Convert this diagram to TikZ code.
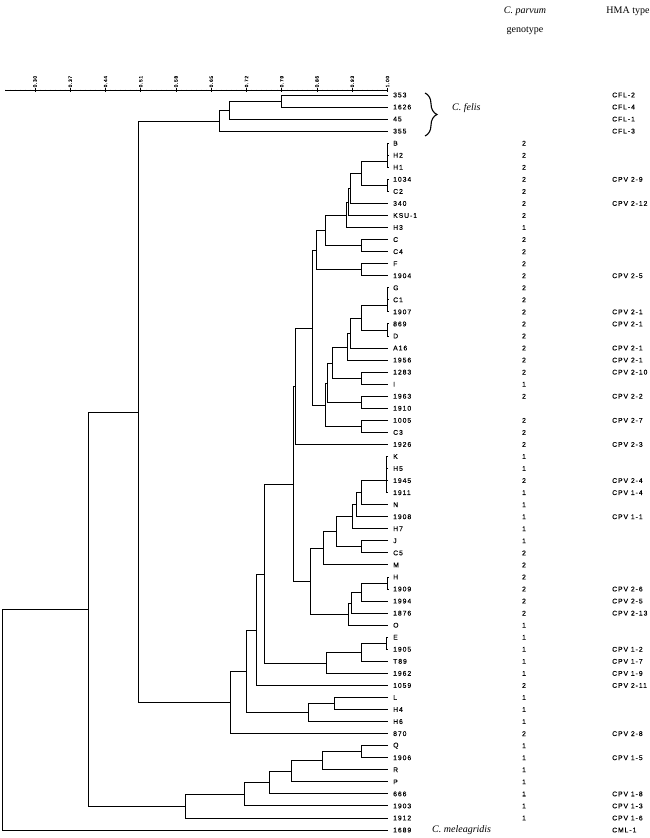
\documentclass[tikz,border=0pt]{standalone}
\usepackage{fontspec}
\setmainfont{Liberation Serif}
\newfontfamily\labfont[LetterSpace=14,FakeBold=0.2]{Liberation Sans}
\usetikzlibrary{calc,decorations.pathreplacing}
\tikzset{
  br/.style={line width=1.8pt},
  lab/.style={anchor=west, inner sep=0pt, font=\labfont\fontsize{6.8}{7}\selectfont},
  gen/.style={anchor=center, inner sep=0pt, font=\labfont\fontsize{6.8}{7}\selectfont},
  head/.style={inner sep=0pt, font=\fontsize{10}{12}\selectfont},
  axlab/.style={inner sep=0pt, rotate=90, anchor=west, font=\labfont\fontsize{4.8}{5}\selectfont}
}
\newcommand\jn[4]{%
  \path let \p1=(#3), \p2=(#4) in coordinate (#1) at (#2, {-(floor(-((\y1)+(\y2))/2)+0.5)});
  \draw[br] (#3) -| (#1) |- (#4);}
\begin{document}
\begin{tikzpicture}[x=1pt,y=-1pt]
\useasboundingbox (0,0) rectangle (650,838);
% headers
\node[head,font=\itshape\fontsize{10}{12}\selectfont] (hpar) at (525,11) {C. parvum};
\node[head] (hgen) at (525,31) {genotype};
\node[head] (hhma) at (628,11) {HMA type};
% axis
\draw[line width=0.7pt] (5,90.5) -- (388,90.5);
\foreach \k in {0,...,76} {
  \pgfmathsetmacro\xx{35+5.0357*(\k-6)}
  \draw[line width=0.4pt] (\xx,89.6) -- (\xx,91.4);
}
\foreach \k/\v in {0/0.30,1/0.37,2/0.44,3/0.51,4/0.58,5/0.65,6/0.72,7/0.79,8/0.86,9/0.93,10/1.00} {
  \pgfmathsetmacro\xx{35+35.25*\k}
  \draw[line width=0.7pt] (\xx,88) -- (\xx,91.8);
  \node[axlab] (ax\k) at (\xx,87.5) {\v};
}
% leaves
\foreach \i/\t in {1/353,2/1626,3/45,4/355,5/B,6/H2,7/H1,8/1034,9/C2,10/340,11/KSU-1,12/H3,13/C,14/C4,15/F,16/1904,17/G,18/C1,19/1907,20/869,21/D,22/A16,23/1956,24/1283,25/I,26/1963,27/1910,28/1005,29/C3,30/1926,31/K,32/H5,33/1945,34/1911,35/N,36/1908,37/H7,38/J,39/C5,40/M,41/H,42/1909,43/1994,44/1876,45/O,46/E,47/1905,48/T89,49/1962,50/1059,51/L,52/H4,53/H6,54/870,55/Q,56/1906,57/R,58/P,59/666,60/1903,61/1912,62/1689} {
  \coordinate (l\i) at (388,{floor(95+12.05*(\i-1))+0.5});
  \node[lab] (t\i) at (393,{95+12.05*(\i-1)}) {\t};
}
% genotype
\foreach \i/\g in {5/2,6/2,7/2,8/2,9/2,10/2,11/2,12/1,13/2,14/2,15/2,16/2,17/2,18/2,19/2,20/2,21/2,22/2,23/2,24/2,25/1,26/2,28/2,29/2,30/2,31/1,32/1,33/2,34/1,35/1,36/1,37/1,38/1,39/2,40/2,41/2,42/2,43/2,44/2,45/1,46/1,47/1,48/1,49/1,50/2,51/1,52/1,53/1,54/2,55/1,56/1,57/1,58/1,59/1,60/1,61/1} {
  \node[gen] (g\i) at (524,{95+12.05*(\i-1)}) {\g};
}
% HMA type
\foreach \i/\h in {1/CFL-2,2/CFL-4,3/CFL-1,4/CFL-3,8/CPV 2-9,10/CPV 2-12,16/CPV 2-5,19/CPV 2-1,20/CPV 2-1,22/CPV 2-1,23/CPV 2-1,24/CPV 2-10,26/CPV 2-2,28/CPV 2-7,30/CPV 2-3,33/CPV 2-4,34/CPV 1-4,36/CPV 1-1,42/CPV 2-6,43/CPV 2-5,44/CPV 2-13,47/CPV 1-2,48/CPV 1-7,49/CPV 1-9,50/CPV 2-11,54/CPV 2-8,56/CPV 1-5,59/CPV 1-8,60/CPV 1-3,61/CPV 1-6,62/CML-1} {
  \node[lab] (m\i) at (612,{95+12.05*(\i-1)}) {\h};
}
% species labels
\draw[line width=1.1pt, decorate, decoration={brace, amplitude=12pt}] (425,93) -- (425,136);
\node[head,anchor=west,font=\itshape\fontsize{10}{12}\selectfont] (felis) at (452,108) {C. felis};
\node[head,anchor=west,font=\itshape\fontsize{10}{12}\selectfont] (mel) at (432,830) {C. meleagridis};
% tree: C. felis
\jn{k1}{281.5}{l1}{l2}
\jn{k2}{229.5}{k1}{l3}
\jn{k3}{219.5}{k2}{l4}
% upper C. parvum
\jn{a0}{387.5}{l6}{l7}
\draw[br] (l5) -| (a0);
\jn{a2}{387.5}{l8}{l9}
\jn{a3}{361.5}{a0}{a2}
\jn{a4}{350.5}{a3}{l10}
\jn{a5}{348.5}{a4}{l11}
\jn{a6}{346.5}{a5}{l12}
\jn{a7}{361.5}{l13}{l14}
\jn{a8}{325.5}{a6}{a7}
\jn{a9}{361.5}{l15}{l16}
\jn{a10}{316.5}{a8}{a9}
\jn{b0}{387.5}{l18}{l19}
\draw[br] (l17) -| (b0);
\jn{bz}{387.5}{l20}{l21}
\jn{b1}{361.5}{b0}{bz}
\jn{b2}{350.5}{b1}{l22}
\jn{b3}{347.5}{b2}{l23}
\jn{b4}{361.5}{l24}{l25}
\jn{b5}{332.5}{b3}{b4}
\jn{b6}{361.5}{l26}{l27}
\jn{b7}{327.5}{b5}{b6}
\jn{b8}{361.5}{l28}{l29}
\jn{b9}{325.5}{b7}{b8}
\jn{a11}{312.5}{a10}{b9}
\jn{p1}{295.5}{a11}{l30}
% K cluster
\jn{c0}{386.5}{l32}{l34}
\draw[br] (l31) -| (c0);
\draw[br] (l33) -- (l33 -| c0);
\jn{c1}{361.5}{c0}{l35}
\jn{c2}{356.5}{c1}{l36}
\jn{c3}{352.5}{c2}{l37}
\jn{c4}{361.5}{l38}{l39}
\jn{c5}{336.5}{c3}{c4}
\jn{c6}{323.5}{c5}{l40}
\jn{d1}{387.5}{l41}{l42}
\jn{d2}{361.5}{d1}{l43}
\jn{d3}{351.5}{d2}{l44}
\jn{d4}{348.5}{d3}{l45}
\jn{d5}{310.5}{c6}{d4}
\jn{p2}{293.5}{p1}{d5}
\jn{e1}{386.5}{l46}{l47}
\jn{e2}{361.5}{e1}{l48}
\jn{e3}{326.5}{e2}{l49}
\jn{f1}{264.5}{p2}{e3}
\jn{f2}{256.5}{f1}{l50}
\jn{g1}{334.5}{l51}{l52}
\jn{g2}{308.5}{g1}{l53}
\jn{f3}{246.5}{f2}{g2}
\jn{f4}{230.5}{f3}{l54}
\jn{bb}{138.5}{k3}{f4}
% genotype 1 outgroup cluster
\jn{h1}{361.5}{l55}{l56}
\jn{h2}{322.5}{h1}{l57}
\jn{h3}{291.5}{h2}{l58}
\jn{h4}{269.5}{h3}{l59}
\jn{h5}{244.5}{h4}{l60}
\jn{h6}{185.5}{h5}{l61}
\jn{aa}{88.5}{bb}{h6}
\jn{root}{2.5}{aa}{l62}
\end{tikzpicture}
\end{document}
